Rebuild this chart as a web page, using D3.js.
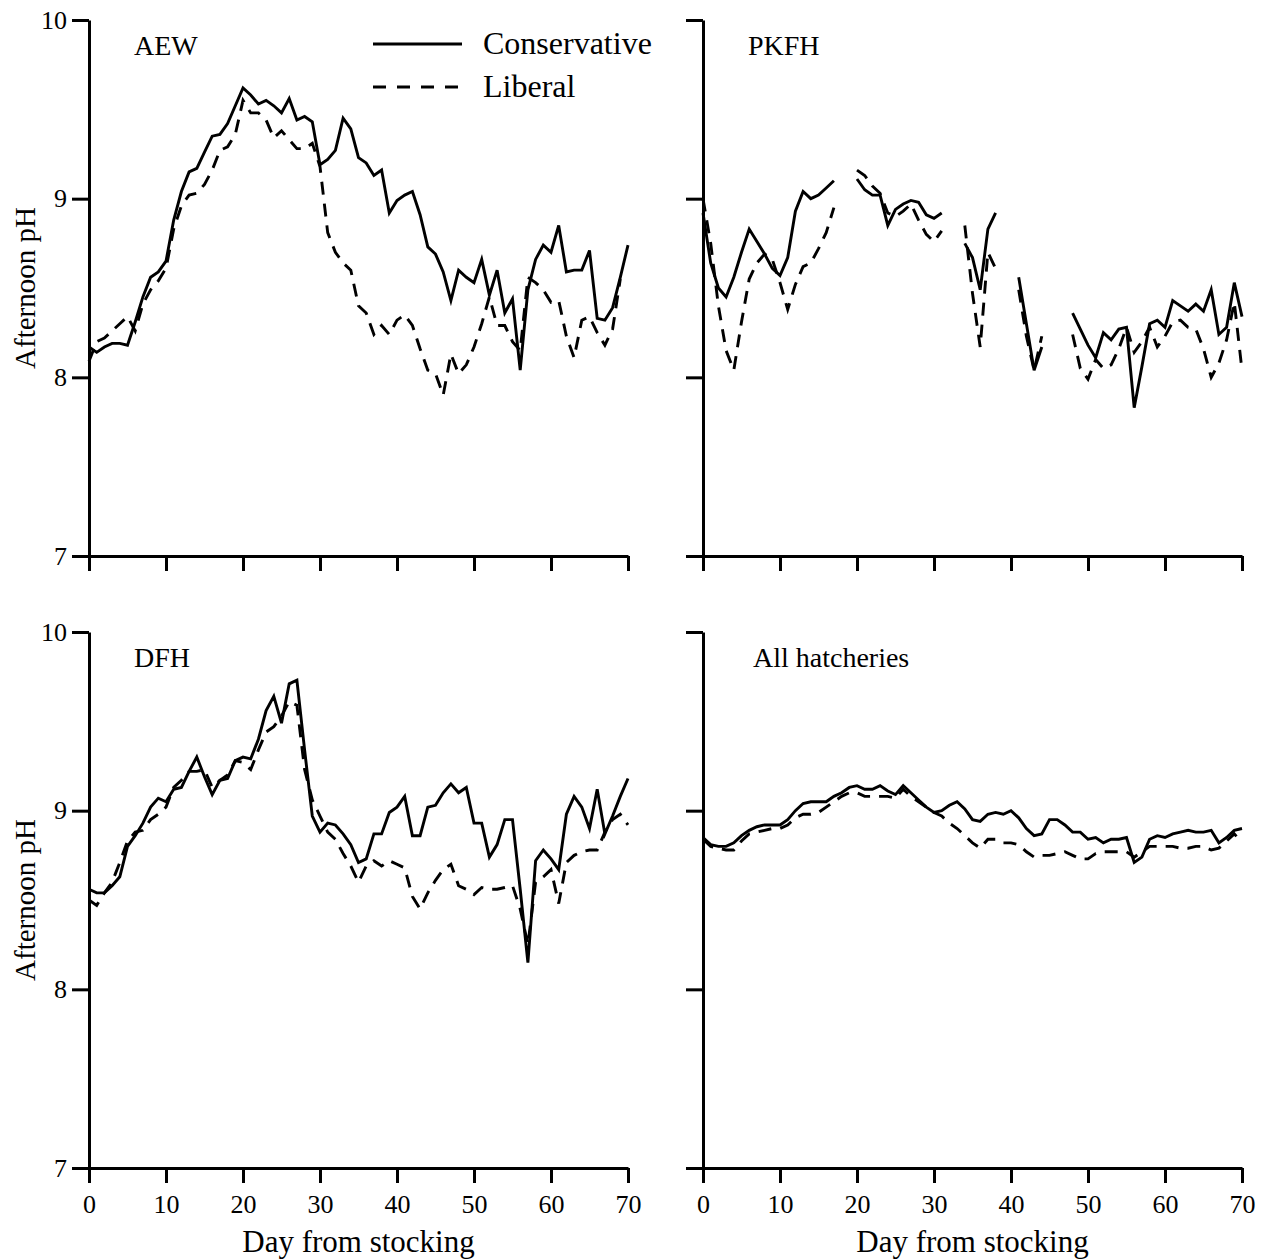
<!DOCTYPE html>
<html>
<head>
<meta charset="utf-8">
<script src="https://cdn.jsdelivr.net/npm/d3@7"></script>
<style>
  html, body { margin: 0; padding: 0; background: #fff; }
  svg { display: block; }
  text { font-family: "Liberation Serif", "Times New Roman", serif; fill: #000; }
</style>
</head>
<body>
<script>
// Day from stocking (x) and afternoon pH (y)
const days = d3.range(0, 71);
const xTicks = [0, 10, 20, 30, 40, 50, 60, 70];
const yTicks = [7, 8, 9, 10];
const seriesNames = ["Conservative", "Liberal"];
const panelNames = ["AEW", "PKFH", "DFH", "All hatcheries"];

const aewConservative = [8.17, 8.14, 8.17, 8.19, 8.19, 8.18, 8.31, 8.45, 8.56, 8.59,
  8.65, 8.88, 9.04, 9.15, 9.17, 9.26, 9.35, 9.36, 9.42, 9.52,
  9.62, 9.58, 9.53, 9.55, 9.52, 9.48, 9.56, 9.44, 9.46, 9.43,
  9.19, 9.22, 9.27, 9.45, 9.39, 9.23, 9.20, 9.13, 9.16, 8.92,
  8.99, 9.02, 9.04, 8.91, 8.73, 8.69, 8.59, 8.43, 8.60, 8.56,
  8.53, 8.66, 8.46, 8.60, 8.36, 8.44, 8.04, 8.49, 8.66, 8.74,
  8.70, 8.85, 8.59, 8.60, 8.60, 8.71, 8.33, 8.32, 8.39, 8.56, 8.74];
const aewLiberal = [8.09, 8.20, 8.22, 8.26, 8.30, 8.34, 8.26, 8.41, 8.49, 8.54,
  8.61, 8.83, 8.96, 9.02, 9.03, 9.08, 9.16, 9.27, 9.29, 9.36,
  9.55, 9.48, 9.48, 9.44, 9.34, 9.38, 9.33, 9.28, 9.28, 9.31,
  9.18, 8.81, 8.70, 8.64, 8.60, 8.40, 8.36, 8.24, 8.29, 8.24,
  8.32, 8.35, 8.29, 8.16, 8.04, 8.02, 7.90, 8.13, 8.02, 8.07,
  8.17, 8.30, 8.45, 8.29, 8.29, 8.20, 8.15, 8.56, 8.53, 8.49,
  8.42, 8.43, 8.23, 8.11, 8.32, 8.34, 8.25, 8.18, 8.27, 8.55, null];

const pkfhConservative = [8.92, 8.64, 8.50, 8.45, 8.56, 8.70, 8.83, 8.76, 8.69, 8.61,
  8.57, 8.67, 8.93, 9.04, 9.00, 9.02, 9.06, 9.10, null, null,
  9.11, 9.05, 9.02, 9.02, 8.85, 8.94, 8.97, 8.99, 8.98, 8.91,
  8.89, 8.92, null, null, 8.75, 8.67, 8.49, 8.83, 8.92, null,
  null, 8.56, 8.30, 8.04, 8.17, null, null, null, 8.36, 8.27,
  8.18, 8.11, 8.25, 8.21, 8.27, 8.28, 7.83, 8.06, 8.30, 8.32,
  8.28, 8.43, 8.40, 8.37, 8.41, 8.37, 8.49, 8.24, 8.28, 8.53, 8.34];
const pkfhLiberal = [9.00, 8.75, 8.40, 8.15, 8.04, 8.31, 8.55, 8.64, 8.69, 8.66,
  8.53, 8.38, 8.52, 8.62, 8.64, 8.72, 8.81, 8.95, null, null,
  9.16, 9.13, 9.07, 9.03, 8.92, 8.90, 8.93, 8.97, 8.88, 8.80,
  8.76, 8.82, null, null, 8.85, 8.47, 8.17, 8.70, 8.61, null,
  null, 8.49, 8.23, 8.04, 8.23, null, null, null, 8.24, 8.05,
  7.99, 8.10, 8.05, 8.07, 8.16, 8.28, 8.14, 8.20, 8.28, 8.17,
  8.23, 8.31, 8.32, 8.28, 8.27, 8.16, 8.00, 8.08, 8.21, 8.42, 8.04];

const dfhConservative = [8.56, 8.54, 8.54, 8.58, 8.63, 8.80, 8.86, 8.93, 9.02, 9.07,
  9.05, 9.12, 9.13, 9.22, 9.30, 9.19, 9.09, 9.17, 9.18, 9.28,
  9.30, 9.29, 9.40, 9.56, 9.64, 9.49, 9.71, 9.73, 9.34, 8.97,
  8.88, 8.93, 8.92, 8.87, 8.81, 8.71, 8.73, 8.87, 8.87, 8.99,
  9.02, 9.08, 8.86, 8.86, 9.02, 9.03, 9.10, 9.15, 9.10, 9.13,
  8.93, 8.93, 8.74, 8.81, 8.95, 8.95, 8.56, 8.15, 8.72, 8.78,
  8.73, 8.67, 8.98, 9.08, 9.02, 8.90, 9.12, 8.87, 8.97, 9.08, 9.18];
const dfhLiberal = [8.50, 8.47, 8.54, 8.60, 8.71, 8.83, 8.88, 8.89, 8.95, 8.98,
  9.02, 9.13, 9.17, 9.22, 9.22, 9.23, 9.13, 9.17, 9.20, 9.28,
  9.27, 9.23, 9.34, 9.44, 9.47, 9.53, 9.61, 9.59, 9.23, 9.06,
  8.97, 8.88, 8.84, 8.76, 8.69, 8.60, 8.69, 8.72, 8.69, 8.72,
  8.70, 8.68, 8.52, 8.45, 8.54, 8.61, 8.67, 8.70, 8.58, 8.56,
  8.53, 8.57, 8.56, 8.56, 8.57, 8.58, 8.45, 8.25, 8.60, 8.63,
  8.67, 8.48, 8.71, 8.75, 8.77, 8.78, 8.78, 8.88, 8.95, 8.98, 8.92];

const allConservative = [8.85, 8.81, 8.80, 8.80, 8.82, 8.86, 8.89, 8.91, 8.92, 8.92,
  8.92, 8.95, 9.00, 9.04, 9.05, 9.05, 9.05, 9.08, 9.10, 9.13,
  9.14, 9.12, 9.12, 9.14, 9.11, 9.09, 9.14, 9.10, 9.06, 9.02,
  8.99, 9.00, 9.03, 9.05, 9.01, 8.95, 8.94, 8.98, 8.99, 8.98,
  9.00, 8.96, 8.90, 8.86, 8.87, 8.95, 8.95, 8.92, 8.88, 8.88,
  8.84, 8.85, 8.82, 8.84, 8.84, 8.85, 8.71, 8.74, 8.84, 8.86,
  8.85, 8.87, 8.88, 8.89, 8.88, 8.88, 8.89, 8.82, 8.85, 8.89, 8.90];
const allLiberal = [8.84, 8.80, 8.79, 8.78, 8.78, 8.83, 8.87, 8.88, 8.89, 8.90,
  8.90, 8.92, 8.96, 8.98, 8.98, 8.99, 9.02, 9.05, 9.08, 9.10,
  9.10, 9.08, 9.08, 9.08, 9.08, 9.07, 9.12, 9.08, 9.05, 9.02,
  8.99, 8.97, 8.93, 8.90, 8.86, 8.82, 8.79, 8.84, 8.84, 8.82,
  8.82, 8.81, 8.77, 8.74, 8.75, 8.75, 8.76, 8.77, 8.75, 8.73,
  8.73, 8.76, 8.77, 8.77, 8.77, 8.77, 8.74, 8.77, 8.80, 8.80,
  8.80, 8.80, 8.79, 8.79, 8.80, 8.80, 8.78, 8.79, 8.83, 8.87, 8.82];

const panelSeries = [
  [aewConservative, aewLiberal],
  [pkfhConservative, pkfhLiberal],
  [dfhConservative, dfhLiberal],
  [allConservative, allLiberal]
];

// ---- layout ----
const W = 1264, H = 1260;
const plotW = 539, plotH = 536;
const lefts = [89, 703];
const tops = [20, 632];
const dashes = [null, "13,9"];
const strokeW = 2.9;

const svg = d3.select("body").append("svg")
  .attr("width", W).attr("height", H)
  .attr("viewBox", `0 0 ${W} ${H}`);

const x = d3.scaleLinear().domain([0, 70]).range([0, plotW]);
const y = d3.scaleLinear().domain([7, 10]).range([plotH, 0]);

const line = d3.line()
  .defined(d => d[1] != null)
  .x(d => x(d[0]))
  .y(d => y(d[1]));

panelNames.forEach((name, i) => {
  const col = i % 2, row = Math.floor(i / 2);
  const g = svg.append("g")
    .attr("transform", `translate(${lefts[col]},${tops[row]})`);

  // axes
  const yAxis = d3.axisLeft(y).tickValues(yTicks).tickSize(17).tickSizeOuter(0).tickPadding(5)
    .tickFormat(col === 0 ? d3.format("d") : () => "");
  const xAxis = d3.axisBottom(x).tickValues(xTicks).tickSize(15).tickSizeOuter(0).tickPadding(12)
    .tickFormat(row === 1 ? d3.format("d") : () => "");

  const ya = g.append("g").call(yAxis);
  const xa = g.append("g").attr("transform", `translate(0,${plotH})`).call(xAxis);
  [ya, xa].forEach(a => {
    a.selectAll("path.domain").attr("stroke", "#000").attr("stroke-width", 3);
    a.selectAll(".tick line").attr("stroke", "#000").attr("stroke-width", 3);
    a.selectAll(".tick text").style("font-family", '"Liberation Serif", serif')
      .style("font-size", "26px").attr("fill", "#000");
  });

  // data lines
  panelSeries[i].forEach((vals, s) => {
    g.append("path")
      .datum(days.map((d, k) => [d, vals[k]]))
      .attr("fill", "none")
      .attr("stroke", "#000")
      .attr("stroke-width", strokeW)
      .attr("stroke-linejoin", "miter")
      .attr("stroke-dasharray", dashes[s])
      .attr("d", line);
  });

  // panel label
  g.append("text")
    .attr("x", col === 0 ? 45 : (i === 3 ? 50 : 45))
    .attr("y", 35)
    .style("font-size", "28px")
    .text(name);

  // axis titles
  if (col === 0) {
    g.append("text")
      .attr("transform", `translate(${-54},${plotH / 2}) rotate(-90)`)
      .attr("text-anchor", "middle")
      .style("font-size", "29px")
      .text("Afternoon pH");
  }
  if (row === 1) {
    g.append("text")
      .attr("x", plotW / 2).attr("y", plotH + 84)
      .attr("text-anchor", "middle")
      .style("font-size", "31px")
      .text("Day from stocking");
  }

  // legend in the first panel
  if (i === 0) {
    const lg = g.append("g").attr("transform", "translate(284,24)");
    seriesNames.forEach((s, k) => {
      lg.append("line")
        .attr("x1", 0).attr("x2", 89)
        .attr("y1", k * 43).attr("y2", k * 43)
        .attr("stroke", "#000").attr("stroke-width", strokeW)
        .attr("stroke-dasharray", dashes[k] ? "13,11" : null);
      lg.append("text")
        .attr("x", 110).attr("y", k * 43 + 10)
        .style("font-size", "32px")
        .text(s);
    });
  }
});
</script>
</body>
</html>
